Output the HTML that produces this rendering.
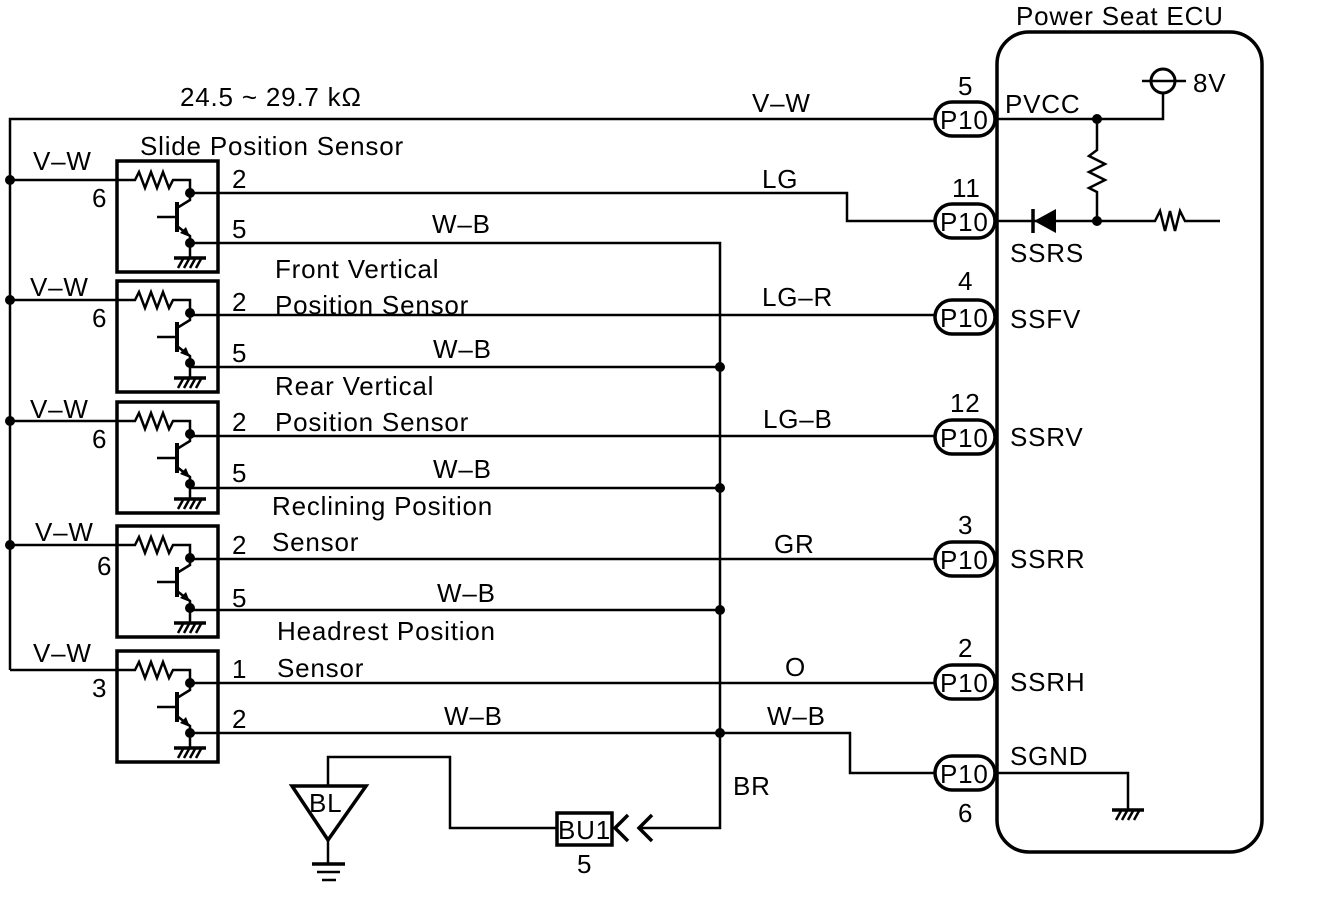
<!DOCTYPE html>
<html><head><meta charset="utf-8"><style>
html,body{margin:0;padding:0;background:#fff;}
svg{display:block;}
text{font-family:"Liberation Sans",Arial,sans-serif;font-size:26px;letter-spacing:0.8px;fill:#000;}
</style></head><body>
<svg width="1344" height="910" viewBox="0 0 1344 910" xmlns="http://www.w3.org/2000/svg">
<defs>
<g id="sens">
  <rect x="117" y="161" width="101" height="111" fill="none" stroke="#000" stroke-width="3.5"/>
  <polyline points="10,180 135,180 139,172 145,188 151,172 157,188 163,172 169,188 173,180 190,180 190,193" fill="none" stroke="#000" stroke-width="2.5"/>
  <circle cx="190" cy="193" r="5"/>
  <line x1="177" y1="202" x2="177" y2="232" stroke="#000" stroke-width="4"/>
  <line x1="157" y1="217" x2="177" y2="217" stroke="#000" stroke-width="2.5"/>
  <polyline points="190,193 190,200 177,208" fill="none" stroke="#000" stroke-width="2.5"/>
  <polyline points="177,226 190,236 190,258" fill="none" stroke="#000" stroke-width="2.5"/>
  <polygon points="190,237 180,233 186,227" />
  <circle cx="190" cy="243" r="5"/>
  <line x1="174" y1="258" x2="206" y2="258" stroke="#000" stroke-width="3.5"/>
  <path d="M178,268 L183,259 M184,268 L189,259 M190,268 L195,259 M196,268 L201,259" stroke="#000" stroke-width="2.5"/>
</g>
<g id="pill">
  <rect x="935" y="-17" width="60" height="34" rx="17" fill="#fff" stroke="#000" stroke-width="3.5"/>
  <text x="940" y="10" font-size="26" letter-spacing="0">P10</text>
</g>
</defs>
<g fill="none" stroke="#000" stroke-width="2.5">
  <rect x="997" y="32" width="265" height="820" rx="32" stroke-width="3.5"/>
  <polyline points="938,119 10,119 10,670"/>
  <polyline points="190,193 847,193 847,221 938,221"/>
  <polyline points="190,243 720,243 720,828 640,828"/>
  <line x1="190" y1="315" x2="938" y2="315"/>
  <line x1="190" y1="367" x2="720" y2="367"/>
  <line x1="190" y1="436" x2="938" y2="436"/>
  <line x1="190" y1="488" x2="720" y2="488"/>
  <line x1="190" y1="559" x2="938" y2="559"/>
  <line x1="190" y1="610" x2="720" y2="610"/>
  <line x1="190" y1="683" x2="938" y2="683"/>
  <polyline points="190,733 850,733 850,773 938,773"/>
  <polyline points="628,815 615,828 628,841" stroke-width="3.5"/>
  <polyline points="652,815 639,828 652,841" stroke-width="3.5"/>
  <rect x="557" y="813" width="55" height="32" stroke-width="3.5"/>
  <polyline points="557,828 450,828 450,757 328,757 328,786"/>
  <polygon points="292,786 366,786 328,840" stroke-width="3.5"/>
  <line x1="328" y1="840" x2="328" y2="864"/>
  <line x1="312" y1="864" x2="345" y2="864" stroke-width="3.5"/>
  <line x1="317" y1="872" x2="340" y2="872"/>
  <line x1="322" y1="880" x2="336" y2="880"/>
  <polyline points="997,119 1163,119 1163,93"/>
  <circle cx="1163" cy="81" r="12" stroke-width="3"/>
  <line x1="1142" y1="81" x2="1186" y2="81"/>
  <polyline points="1097,119 1097,150 1089,156 1105,164 1089,172 1105,180 1089,188 1097,192 1097,221"/>
  <polyline points="997,221 1155,221 1160,211 1165,231 1170,211 1175,231 1180,211 1185,221 1220,221"/>
  <line x1="1033" y1="209" x2="1033" y2="233" stroke-width="3.5"/>
  <polyline points="997,773 1128,773 1128,810"/>
  <line x1="1112" y1="810" x2="1144" y2="810" stroke-width="3.5"/>
  <path d="M1116,820 L1121,811 M1122,820 L1127,811 M1128,820 L1133,811 M1134,820 L1139,811"/>
</g>
<polygon points="1034,221 1056,209 1056,233"/>
<g>
  <circle cx="1097" cy="119" r="5"/><circle cx="1097" cy="221" r="5"/>
  <circle cx="10" cy="180" r="5"/><circle cx="10" cy="300" r="5"/><circle cx="10" cy="421" r="5"/><circle cx="10" cy="545" r="5"/>
  <circle cx="720" cy="367" r="5"/><circle cx="720" cy="488" r="5"/><circle cx="720" cy="610" r="5"/><circle cx="720" cy="733" r="5"/>
</g>
<use href="#sens"/>
<use href="#sens" transform="translate(0,120)"/>
<use href="#sens" transform="translate(0,241)"/>
<use href="#sens" transform="translate(0,365)"/>
<use href="#sens" transform="translate(0,490)"/>
<use href="#pill" transform="translate(0,119)"/>
<use href="#pill" transform="translate(0,221)"/>
<use href="#pill" transform="translate(0,317)"/>
<use href="#pill" transform="translate(0,437)"/>
<use href="#pill" transform="translate(0,559)"/>
<use href="#pill" transform="translate(0,682)"/>
<use href="#pill" transform="translate(0,773)"/>
<text x="558" y="839" font-size="25" letter-spacing="0">BU1</text>
<text x="309" y="812" font-size="25" letter-spacing="0">BL</text>
<text x="180" y="106">24.5 ~ 29.7 kΩ</text>
<text x="752" y="112">V–W</text>
<text x="140" y="155">Slide Position Sensor</text>
<text x="33" y="170">V–W</text><text x="92" y="207">6</text>
<text x="232" y="188">2</text><text x="232" y="238">5</text>
<text x="432" y="233">W–B</text><text x="762" y="188">LG</text>
<text x="30" y="296">V–W</text><text x="92" y="327">6</text>
<text x="232" y="311">2</text><text x="232" y="362">5</text>
<text x="275" y="278">Front Vertical</text><text x="275" y="314">Position Sensor</text>
<text x="433" y="358">W–B</text><text x="762" y="306">LG–R</text>
<text x="30" y="418">V–W</text><text x="92" y="448">6</text>
<text x="232" y="431">2</text><text x="232" y="482">5</text>
<text x="275" y="395">Rear Vertical</text><text x="275" y="431">Position Sensor</text>
<text x="433" y="478">W–B</text><text x="763" y="428">LG–B</text>
<text x="35" y="541">V–W</text><text x="97" y="575">6</text>
<text x="232" y="554">2</text><text x="232" y="607">5</text>
<text x="272" y="515">Reclining Position</text><text x="272" y="551">Sensor</text>
<text x="437" y="602">W–B</text><text x="774" y="553">GR</text>
<text x="33" y="662">V–W</text><text x="92" y="697">3</text>
<text x="232" y="678">1</text><text x="232" y="728">2</text>
<text x="277" y="640">Headrest Position</text><text x="277" y="677">Sensor</text>
<text x="444" y="725">W–B</text><text x="785" y="676">O</text><text x="767" y="725">W–B</text>
<text x="733" y="795">BR</text>
<text x="577" y="873">5</text>
<text x="958" y="822">6</text>
<text x="1016" y="25">Power Seat ECU</text>
<text x="958" y="95">5</text><text x="952" y="197">11</text><text x="958" y="290">4</text>
<text x="950" y="412">12</text><text x="958" y="534">3</text><text x="958" y="657">2</text>
<text x="1005" y="113">PVCC</text><text x="1010" y="262">SSRS</text><text x="1010" y="328">SSFV</text>
<text x="1010" y="446">SSRV</text><text x="1010" y="568">SSRR</text><text x="1010" y="691">SSRH</text>
<text x="1010" y="765">SGND</text><text x="1193" y="92">8V</text>
</svg>
</body></html>
